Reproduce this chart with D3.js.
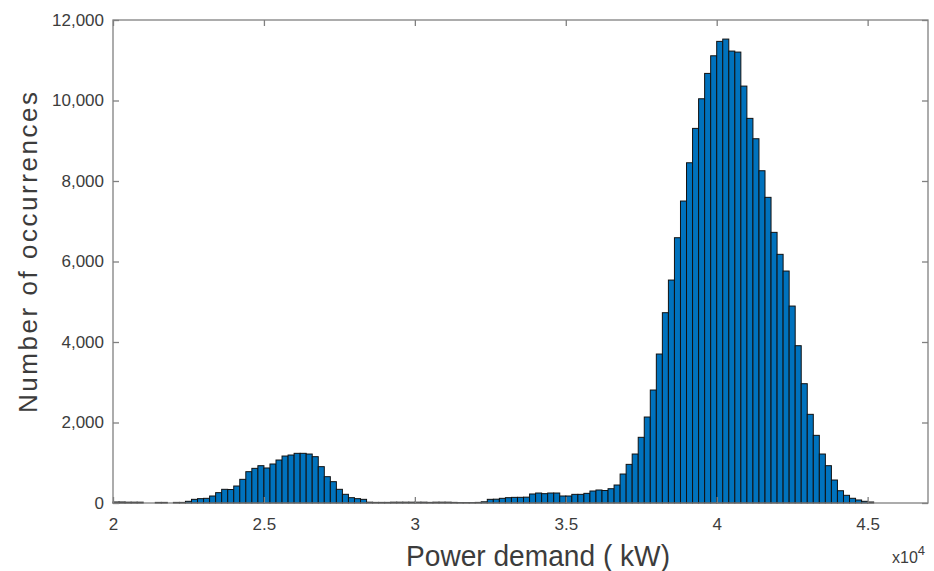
<!DOCTYPE html>
<html>
<head>
<meta charset="utf-8">
<script src="https://cdn.jsdelivr.net/npm/d3@7"></script>
<style>
  html, body { margin: 0; padding: 0; background: #fff; }
  svg { display: block; font-family: "Liberation Sans", Arial, sans-serif; }
</style>
</head>
<body>
<svg id="chart" width="934" height="571"></svg>
<script>
// Histogram: bins of 200 kW starting at 20,000 kW
const binWidth = 200;
const binStarts = d3.range(20000, 45200, 200);
const counts = [
  25, 25, 20, 20, 20, 0, 0, 15, 15, 0, 15, 15,
  42, 91, 108, 116, 174, 257, 340, 335, 422, 588, 778, 861, 927, 870,
  969, 1068, 1167, 1192, 1234, 1234, 1217, 1151, 903, 654, 530, 340, 216, 132, 108, 91,
  20, 15, 15, 15, 20, 20, 20, 20, 20, 20, 15, 20, 20, 20, 15, 10, 10, 10, 15, 30,
  91, 95, 116, 132, 140, 141, 145, 224, 248, 232, 248, 248, 174, 174, 215, 215, 240, 298, 323, 310,
  355, 447, 720, 960, 1217, 1632, 2136, 2807, 3701, 4728, 5539, 6591, 7502, 8453, 9307, 10043,
  10673, 11111, 11469, 11526, 11228, 11203, 10358, 9556, 9050, 8255, 7594, 6724, 6178, 5763,
  4893, 3908, 2964, 2203, 1681, 1217, 927, 571, 305, 191, 117, 75, 42, 25
];
const xTicks = [20000, 25000, 30000, 35000, 40000, 45000];
const yTicks = [0, 2000, 4000, 6000, 8000, 10000, 12000];
const xLabel = "Power demand ( kW)";
const yLabel = "Number of occurrences";

const bins = binStarts.map((s, i) => ({ x0: s, x1: s + binWidth, n: counts[i] }));

const svg = d3.select("#chart");
const W = 934, H = 571;
const m = { left: 113, right: 6, top: 20, bottom: 68 };
const x = d3.scaleLinear().domain([20000, 47000]).range([m.left, W - m.right]);
const y = d3.scaleLinear().domain([0, 12000]).range([H - m.bottom, m.top]);

const textColor = "#3c3c3c";
const axisColor = "#808080";

// bars
svg.append("g")
  .selectAll("rect")
  .data(bins.filter(d => d.n > 0))
  .join("rect")
  .attr("x", d => x(d.x0))
  .attr("width", d => x(d.x1) - x(d.x0))
  .attr("y", d => y(d.n))
  .attr("height", d => y(0) - y(d.n))
  .attr("fill", "#0072BD")
  .attr("stroke", "#111")
  .attr("stroke-width", 1);

function styleAxis(g, showLabels) {
  g.select(".domain").remove();
  g.selectAll(".tick line").attr("stroke", axisColor).attr("stroke-width", 1.3);
  g.selectAll(".tick text")
    .attr("fill", textColor)
    .style("font-size", "17px")
    .style("display", showLabels ? null : "none");
}

// bottom axis
svg.append("g")
  .attr("transform", `translate(0,${y(0)})`)
  .call(d3.axisBottom(x).tickValues(xTicks).tickSize(-6).tickPadding(15).tickFormat(d => d / 1e4))
  .call(g => styleAxis(g, true));
// top axis (ticks only)
svg.append("g")
  .attr("transform", `translate(0,${y(12000)})`)
  .call(d3.axisTop(x).tickValues(xTicks).tickSize(-6))
  .call(g => styleAxis(g, false));
// left axis
svg.append("g")
  .attr("transform", `translate(${x(20000)},0)`)
  .call(d3.axisLeft(y).tickValues(yTicks).tickSize(-6).tickPadding(9).tickFormat(d3.format(",")))
  .call(g => styleAxis(g, true));
// right axis (ticks only)
svg.append("g")
  .attr("transform", `translate(${x(47000)},0)`)
  .call(d3.axisRight(y).tickValues(yTicks).tickSize(-6))
  .call(g => styleAxis(g, false));

// frame
svg.append("rect")
  .attr("x", x(20000)).attr("y", y(12000))
  .attr("width", x(47000) - x(20000)).attr("height", y(0) - y(12000))
  .attr("fill", "none").attr("stroke", axisColor).attr("stroke-width", 1.3);

// x label
svg.append("text")
  .attr("x", 406).attr("y", 566)
  .attr("fill", textColor)
  .style("font-size", "30px")
  .attr("textLength", 264)
  .attr("lengthAdjust", "spacingAndGlyphs")
  .text(xLabel);

// y label
svg.append("text")
  .attr("transform", "translate(37,413) rotate(-90)")
  .attr("fill", textColor)
  .style("font-size", "26px")
  .attr("textLength", 321)
  .attr("lengthAdjust", "spacing")
  .text(yLabel);

// exponent
const ex = svg.append("text")
  .attr("x", 892).attr("y", 563)
  .attr("fill", textColor)
  .style("font-size", "16px");
ex.append("tspan").text("x10");
ex.append("tspan").attr("dy", -8).style("font-size", "13px").text("4");
</script>
</body>
</html>
